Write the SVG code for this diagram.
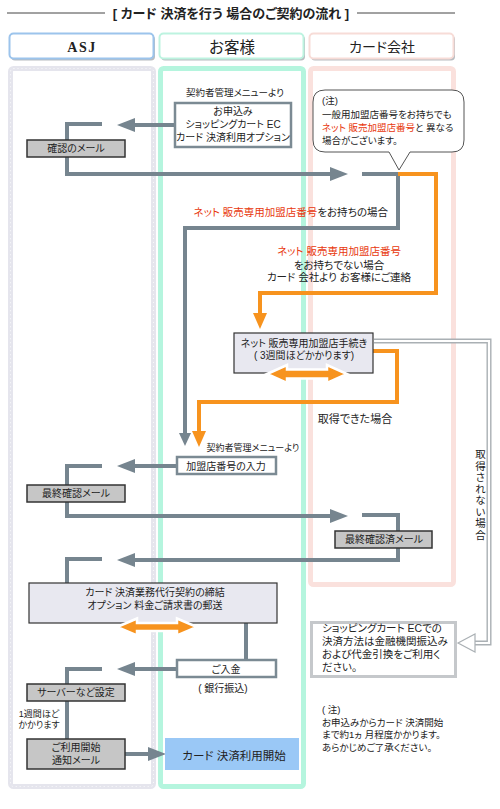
<svg xmlns="http://www.w3.org/2000/svg" width="500" height="809" viewBox="0 0 500 809">
<style>
.t{font-family:"Liberation Sans","Noto Sans CJK JP",sans-serif;font-size:10px;fill:#222;font-feature-settings:"palt"}
.c{text-anchor:middle}
.e{text-anchor:end}
.red{fill:#e8380d}
.ln{fill:none;stroke:#76858f;stroke-width:4}
.or{fill:none;stroke:#f7931e;stroke-width:4}
.gbox{fill:#c6c6c6;stroke:#333;stroke-width:1.5}
.wbox{fill:#fff;stroke:#7b8a93;stroke-width:2.5}
.lbox{fill:#e8e8f0;stroke:#333;stroke-width:1.2}
.dbl{fill:#f7931e;stroke:#fff;stroke-width:2.5}
</style>
<defs>
<marker id="ag" markerUnits="userSpaceOnUse" markerWidth="18" markerHeight="14" refX="0" refY="7" orient="auto"><path d="M0,0 L18,7 L0,14 z" fill="#76858f"/></marker>
<marker id="ags" markerUnits="userSpaceOnUse" markerWidth="13" markerHeight="12" refX="0" refY="6" orient="auto"><path d="M0,0 L13,6 L0,12 z" fill="#76858f"/></marker>
<marker id="ao" markerUnits="userSpaceOnUse" markerWidth="16" markerHeight="14" refX="0" refY="7" orient="auto"><path d="M0,0 L16,7 L0,14 z" fill="#f7931e"/></marker>
</defs>
<rect width="500" height="809" fill="#fff"/>

<g id="title">
<line x1="7" y1="13" x2="105" y2="13" stroke="#444" stroke-width="1"/>
<line x1="357" y1="13" x2="455" y2="13" stroke="#444" stroke-width="1"/>
<text class="t c" x="231" y="17.5" style="font-size:13px;font-weight:bold">[ カード 決済を行う 場合のご契約の流れ ]</text>
</g>

<g id="lanes">
<rect x="10.5" y="68.5" width="143" height="718" rx="3" fill="#fff" stroke="#e5e5ed" stroke-width="5"/>
<rect x="10.5" y="68.5" width="143" height="718" rx="3" fill="none" stroke="#fff" stroke-width="0.8" stroke-dasharray="1 3"/>
<rect x="160.5" y="68.5" width="143" height="718" rx="3" fill="#fff" stroke="#b5f5de" stroke-width="5"/>
<rect x="310.5" y="68.5" width="143" height="516" rx="3" fill="#fff" stroke="#fae1dd" stroke-width="5"/>
</g>

<g id="hdr-asj">
<rect x="11" y="35.5" width="144" height="25" rx="4" fill="#b8bcc0"/>
<rect x="9.5" y="33.5" width="144" height="25" rx="4" fill="#fff" stroke="#9cc4ec" stroke-width="2"/>
<text x="82" y="52" style="font-family:'Liberation Serif',serif;font-weight:bold;font-size:14px;letter-spacing:1.5px;fill:#222" text-anchor="middle">ASJ</text>
</g>
<g id="hdr-customer">
<rect x="161" y="35.5" width="144" height="25" rx="4" fill="#b8bcc0"/>
<rect x="159.5" y="33.5" width="144" height="25" rx="4" fill="#fff" stroke="#bdf3e0" stroke-width="2"/>
<text class="t c" x="232" y="52.5" style="font-size:15.5px">お客様</text>
</g>
<g id="hdr-card">
<rect x="311" y="35.5" width="144" height="25" rx="4" fill="#b8bcc0"/>
<rect x="309.5" y="33.5" width="144" height="25" rx="4" fill="#fff" stroke="#f7dcd7" stroke-width="2"/>
<text class="t c" x="382" y="52" style="font-size:14px">カード会社</text>
</g>

<g id="connectors">
<path class="ln" d="M174,125 H135" marker-end="url(#ag)"/>
<path class="ln" d="M102,124 H67 V174 H330" marker-end="url(#ag)"/>
<path class="ln" d="M362,174 H398 V228 H185 V433" marker-end="url(#ags)"/>
<path class="or" d="M398,174 H436 V293 H260 V313" marker-end="url(#ao)"/>
<path class="or" d="M373,351 H397 V402 H199 V431" marker-end="url(#ao)"/>
<path d="M374,341 H489 V643 H474" fill="none" stroke="#aab0b4" stroke-width="5"/>
<path d="M374,341 H489 V643 H474" fill="none" stroke="#fff" stroke-width="2.2"/>
<polygon points="458,643 475,634 475,652" fill="#fff" stroke="#aab0b4" stroke-width="1.2"/>
<path class="ln" d="M177,466 H135" marker-end="url(#ag)"/>
<path class="ln" d="M102,466 H67 V516 H330" marker-end="url(#ag)"/>
<path class="ln" d="M362,515 H398 V560 H135" marker-end="url(#ag)"/>
<path class="ln" d="M102,559 H67 V583"/>
<path class="ln" d="M246,623 V660"/>
<path class="ln" d="M176,669 H135" marker-end="url(#ag)"/>
<path class="ln" d="M102,669 H67 V739"/>
<path class="ln" d="M125,754 H148" marker-end="url(#ag)"/>
<text class="t c" x="39" y="716.5" style="font-size:9px">1週間ほど</text>
<text class="t c" x="39" y="728" style="font-size:9px">かかります</text>
<text class="t e" x="388" y="215.5" style="font-size:10.5px"><tspan class="red">ネット 販売専用加盟店番号</tspan>をお持ちの場合</text>
<text class="t c" x="339" y="254.5" style="font-size:10.5px"><tspan class="red">ネット 販売専用加盟店番号</tspan></text>
<text class="t c" x="339" y="268.5" style="font-size:10.5px">をお持ちでない場合</text>
<text class="t c" x="339" y="281" style="font-size:10.5px">カード 会社より お客様にご連絡</text>
<text class="t c" x="355" y="423" style="font-size:11px">取得できた場合</text>
<text class="t" x="480" y="449" style="font-size:10.5px;writing-mode:vertical-rl;letter-spacing:1px">取得されない場合</text>
<text class="t c" x="253" y="450.5" style="font-size:9px">契約者管理メニューより</text>
</g>

<g id="n-apply">
<text class="t c" x="235" y="95.5" style="font-size:9.5px">契約者管理メニューより</text>
<rect class="wbox" x="175" y="103" width="116" height="44"/>
<text class="t c" x="233" y="114.5">お申込み</text>
<text class="t c" x="233" y="127.5">ショッピングカート EC</text>
<text class="t c" x="233" y="140.5">カード 決済利用オプション</text>
</g>

<g id="n-confirm-mail">
<rect class="gbox" x="27" y="140" width="98" height="17"/>
<text class="t c" x="76" y="152.3">確認のメール</text>
</g>

<g id="n-note1">
<path d="M325,90 H452 Q464,90 464,102 V140 Q464,152 452,152 H410 L399,170 L389,152 H325 Q313,152 313,140 V102 Q313,90 325,90 Z" fill="#fff" stroke="#555" stroke-width="1"/>
<text class="t" x="322" y="104" style="font-size:9.5px">(注)</text>
<text class="t" x="322" y="118" style="font-size:9.5px">一般用加盟店番号をお持ちでも</text>
<text class="t" x="322" y="131" style="font-size:9.5px"><tspan class="red">ネット 販売加盟店番号</tspan>と 異なる</text>
<text class="t" x="322" y="143.5" style="font-size:9.5px">場合がございます。</text>
</g>

<g id="n-procedure">
<rect class="lbox" x="234" y="333" width="139" height="40"/>
<text class="t c" x="304" y="346.5">ネット 販売専用加盟店手続き</text>
<text class="t c" x="304" y="358.5">( 3週間ほどかかります)</text>
<polygon class="dbl" points="267,374 287,365 287,369.5 327,369.5 327,365 347,374 327,383 327,378.5 287,378.5 287,383"/>
</g>

<g id="n-input">
<rect class="wbox" x="177" y="457" width="99" height="17"/>
<text class="t c" x="226" y="469.5">加盟店番号の入力</text>
</g>

<g id="n-final-mail">
<rect class="gbox" x="27" y="485" width="98" height="17"/>
<text class="t c" x="76" y="497.3">最終確認メール</text>
</g>

<g id="n-final-done">
<rect class="gbox" x="335" y="531" width="97" height="17"/>
<text class="t c" x="384" y="543">最終確認済メール</text>
</g>

<g id="n-contract">
<rect class="lbox" x="29" y="583" width="248" height="40"/>
<text class="t c" x="155" y="595.5">カード 決済業務代行契約の締結</text>
<text class="t c" x="155" y="608.5">オプション 料金ご請求書の郵送</text>
<polygon class="dbl" points="117,627 137,618.5 137,623 177,623 177,618.5 197,627 177,635.5 177,631 137,631 137,635.5"/>
</g>

<g id="n-payment">
<rect class="wbox" x="177" y="660" width="99" height="17"/>
<text class="t c" x="226" y="672.5">ご入金</text>
<text class="t c" x="223" y="691.5">( 銀行振込)</text>
</g>

<g id="n-server">
<rect class="gbox" x="27" y="684" width="98" height="17"/>
<text class="t c" x="76" y="696">サーバーなど設定</text>
</g>

<g id="n-start-mail">
<rect class="gbox" x="27" y="739" width="98" height="30"/>
<text class="t c" x="76" y="750.5">ご利用開始</text>
<text class="t c" x="76" y="763.5">通知メール</text>
</g>

<g id="n-start">
<rect x="165" y="738" width="134" height="32" fill="#9ac8f6"/>
<text class="t c" x="234" y="760" style="font-size:11.5px">カード 決済利用開始</text>
</g>

<g id="n-note2">
<rect x="311.5" y="622.5" width="144" height="54" fill="#fff" stroke="#c5c8cb" stroke-width="3"/>
<text class="t" x="322" y="631.5" style="font-size:10.5px">ショッピングカート ECでの</text>
<text class="t" x="322" y="645" style="font-size:10.5px">決済方法は金融機関振込み</text>
<text class="t" x="322" y="658" style="font-size:10.5px">および代金引換をご利用く</text>
<text class="t" x="322" y="670.5" style="font-size:10.5px">ださい。</text>
</g>

<g id="n-note3">
<text class="t" x="322" y="712.5" style="font-size:9.5px">( 注)</text>
<text class="t" x="322" y="725.5" style="font-size:9.5px">お申込みからカード 決済開始</text>
<text class="t" x="322" y="738" style="font-size:9.5px">まで約1ヵ 月程度かかります。</text>
<text class="t" x="322" y="751" style="font-size:9.5px">あらかじめご了承ください。</text>
</g>
</svg>
